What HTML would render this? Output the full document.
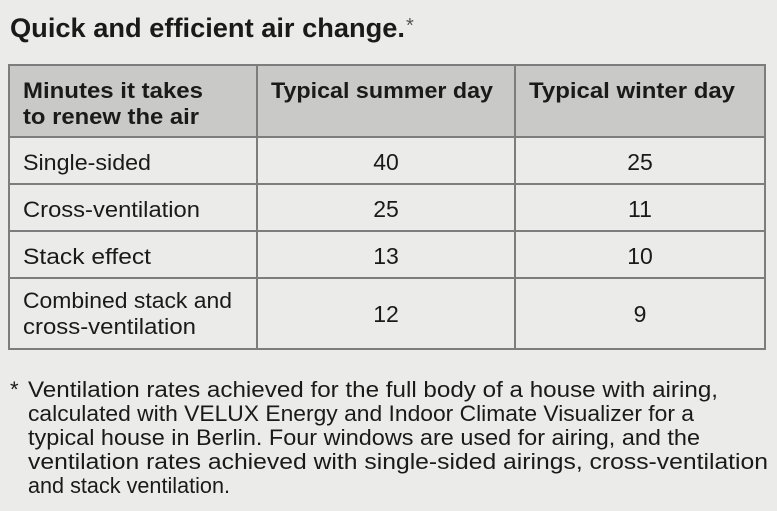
<!DOCTYPE html>
<html><head><meta charset="utf-8"><style>
html,body{margin:0;padding:0;background:#ebebe9;}
svg{display:block}
text{font-family:"Liberation Sans",sans-serif;fill:#1a1a1a;}
.h{font-weight:bold;font-size:22px}
.c{font-size:22px}
.n{font-size:23px}
.f{font-size:22px}
</style></head><body>
<svg width="777" height="511" xmlns="http://www.w3.org/2000/svg">
<rect width="777" height="511" fill="#ebebe9"/>
<text x="10" y="37" style="font-weight:bold;font-size:27px" textLength="395" lengthAdjust="spacingAndGlyphs">Quick and efficient air change.</text>
<text x="406" y="32" style="font-size:20px;fill:#555">*</text>
<rect x="9" y="65" width="756" height="72" fill="#c9c9c7"/>
<g stroke="#7d7d7d" stroke-width="2" fill="none">
<rect x="9" y="65" width="756" height="284"/>
<line x1="257" y1="65" x2="257" y2="349"/>
<line x1="515" y1="65" x2="515" y2="349"/>
<line x1="9" y1="137" x2="765" y2="137"/>
<line x1="9" y1="184" x2="765" y2="184"/>
<line x1="9" y1="231" x2="765" y2="231"/>
<line x1="9" y1="278" x2="765" y2="278"/>
</g>
<text class="h" x="23" y="98" textLength="180" lengthAdjust="spacingAndGlyphs">Minutes it takes</text>
<text class="h" x="23" y="124" textLength="176" lengthAdjust="spacingAndGlyphs">to renew the air</text>
<text class="h" x="271" y="98" textLength="222" lengthAdjust="spacingAndGlyphs">Typical summer day</text>
<text class="h" x="529" y="98" textLength="206" lengthAdjust="spacingAndGlyphs">Typical winter day</text>
<text class="c" x="23" y="170" textLength="128" lengthAdjust="spacingAndGlyphs">Single-sided</text>
<text class="c" x="23" y="217" textLength="177" lengthAdjust="spacingAndGlyphs">Cross-ventilation</text>
<text class="c" x="23" y="264" textLength="128" lengthAdjust="spacingAndGlyphs">Stack effect</text>
<text class="c" x="23" y="308" textLength="209" lengthAdjust="spacingAndGlyphs">Combined stack and</text>
<text class="c" x="23" y="334" textLength="173" lengthAdjust="spacingAndGlyphs">cross-ventilation</text>
<g text-anchor="middle">
<text class="n" x="386" y="170">40</text><text class="n" x="640" y="170">25</text>
<text class="n" x="386" y="217">25</text><text class="n" x="640" y="217">11</text>
<text class="n" x="386" y="264">13</text><text class="n" x="640" y="264">10</text>
<text class="n" x="386" y="322">12</text><text class="n" x="640" y="322">9</text>
</g>
<text class="f" x="10" y="397">*</text>
<text class="f" x="28" y="397" textLength="690" lengthAdjust="spacingAndGlyphs">Ventilation rates achieved for the full body of a house with airing,</text>
<text class="f" x="28" y="421" textLength="666" lengthAdjust="spacingAndGlyphs">calculated with VELUX Energy and Indoor Climate Visualizer for a</text>
<text class="f" x="28" y="445" textLength="672" lengthAdjust="spacingAndGlyphs">typical house in Berlin. Four windows are used for airing, and the</text>
<text class="f" x="28" y="469" textLength="740" lengthAdjust="spacingAndGlyphs">ventilation rates achieved with single-sided airings, cross-ventilation</text>
<text class="f" x="28" y="493" textLength="202" lengthAdjust="spacingAndGlyphs">and stack ventilation.</text>
</svg>
</body></html>
